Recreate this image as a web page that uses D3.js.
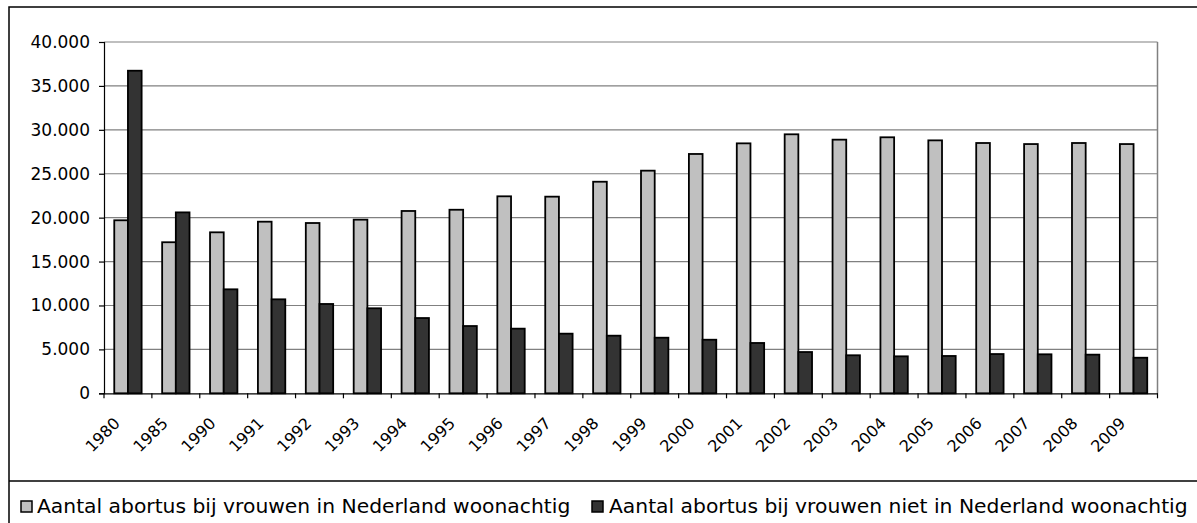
<!DOCTYPE html>
<html>
<head>
<meta charset="utf-8">
<script src="https://cdn.jsdelivr.net/npm/d3@7"></script>
<style>
  html, body { margin: 0; padding: 0; background: #fff; }
  svg { display: block; }
  text { font-family: "DejaVu Sans", Verdana, sans-serif; fill: #000; }
</style>
</head>
<body>
<svg id="chart" width="1197" height="523"></svg>
<script>
const categories = ["1980","1985","1990","1991","1992","1993","1994","1995","1996","1997","1998","1999","2000","2001","2002","2003","2004","2005","2006","2007","2008","2009"];
const inNederland = [19700,17200,18330,19540,19390,19770,20760,20900,22430,22390,24090,25350,27250,28460,29490,28880,29150,28800,28500,28380,28500,28380];
const nietInNederland = [36730,20600,11840,10700,10170,9680,8570,7660,7360,6790,6560,6330,6100,5730,4700,4330,4210,4250,4470,4440,4400,4050];
const seriesNames = ["Aantal abortus bij vrouwen in Nederland woonachtig","Aantal abortus bij vrouwen niet in Nederland woonachtig"];
const yTicks = [0,5000,10000,15000,20000,25000,30000,35000,40000];
const colors = ["#c0c0c0","#333333"];

const svg = d3.select("#chart");
const W = 1197, H = 523;

// outer chart border (extends past right/bottom edges like the reference)
svg.append("rect").attr("x", 9).attr("y", 7).attr("width", 1200).attr("height", 540)
  .attr("fill", "#fff").attr("stroke", "#000").attr("stroke-width", 1.5);

const plot = {left: 104, right: 1157.5, top: 42, bottom: 393.3};
const x = d3.scaleBand().domain(categories).range([plot.left, plot.right]).paddingInner(0).paddingOuter(0);
const y = d3.scaleLinear().domain([0, 40000]).range([plot.bottom, plot.top]);

const nl = d3.formatLocale({decimal: ",", thousands: ".", grouping: [3], currency: ["€",""]});
const fmt = nl.format(",d");

// gridlines
svg.append("g").selectAll("line").data(yTicks.filter(d => d > 0)).join("line")
  .attr("x1", plot.left).attr("x2", plot.right)
  .attr("y1", d => y(d)).attr("y2", d => y(d))
  .attr("stroke", "#808080").attr("stroke-width", 1.2);

// plot area right border
svg.append("line").attr("x1", plot.right).attr("x2", plot.right)
  .attr("y1", plot.top).attr("y2", plot.bottom)
  .attr("stroke", "#808080").attr("stroke-width", 1.5);

// bars
const gap = 1.5; // Excel gap width 150%
const barW = x.bandwidth() / (2 + gap);
const series = [inNederland, nietInNederland];
series.forEach((vals, si) => {
  svg.append("g").selectAll("rect").data(categories).join("rect")
    .attr("x", (d) => x(d) + x.bandwidth() / 2 + (si - 1) * barW)
    .attr("y", (d, i) => y(vals[i]))
    .attr("width", barW)
    .attr("height", (d, i) => y(0) - y(vals[i]))
    .attr("fill", colors[si])
    .attr("stroke", "#000").attr("stroke-width", 1.8);
});

// y axis
const yAxis = d3.axisLeft(y).tickValues(yTicks).tickSize(5).tickPadding(9).tickFormat(fmt);
const gy = svg.append("g").attr("transform", `translate(${plot.left},0)`).call(yAxis);
gy.select(".domain").attr("stroke", "#000").attr("stroke-width", 1.2);
gy.selectAll(".tick line").attr("stroke", "#000").attr("stroke-width", 1.2);
gy.selectAll(".tick text").attr("font-size", "17px").attr("font-family", "DejaVu Sans, Verdana, sans-serif").attr("fill", "#000");

// x axis
const xAxis = d3.axisBottom(x).tickSize(0).tickFormat("");
const gx = svg.append("g").attr("transform", `translate(0,${plot.bottom})`).call(xAxis);
gx.select(".domain").attr("stroke", "#000").attr("stroke-width", 1.2);
// tick marks at band boundaries
svg.append("g").selectAll("line").data(categories.concat(["__end"])).join("line")
  .attr("x1", (d, i) => plot.left + i * x.step())
  .attr("x2", (d, i) => plot.left + i * x.step())
  .attr("y1", plot.bottom).attr("y2", plot.bottom + 5)
  .attr("stroke", "#000").attr("stroke-width", 1.2);
// rotated labels
svg.append("g").selectAll("text").data(categories).join("text")
  .attr("text-anchor", "end")
  .attr("font-size", "16px")
  .attr("transform", d => `translate(${x(d) + x.bandwidth() / 2 - 7},${plot.bottom + 31}) rotate(-45)`)
  .text(d => d);

// legend separator
svg.append("line").attr("x1", 9).attr("x2", W).attr("y1", 481).attr("y2", 481)
  .attr("stroke", "#000").attr("stroke-width", 1.5);

const legendItems = [{x: 21, tx: 37}, {x: 592, tx: 609}];
legendItems.forEach((li, i) => {
  svg.append("rect").attr("x", li.x).attr("y", 501).attr("width", 11).attr("height", 11)
    .attr("fill", colors[i]).attr("stroke", "#000").attr("stroke-width", 1.5);
  svg.append("text").attr("x", li.tx).attr("y", 513).attr("font-size", "20.3px").text(seriesNames[i]);
});
</script>
</body>
</html>
